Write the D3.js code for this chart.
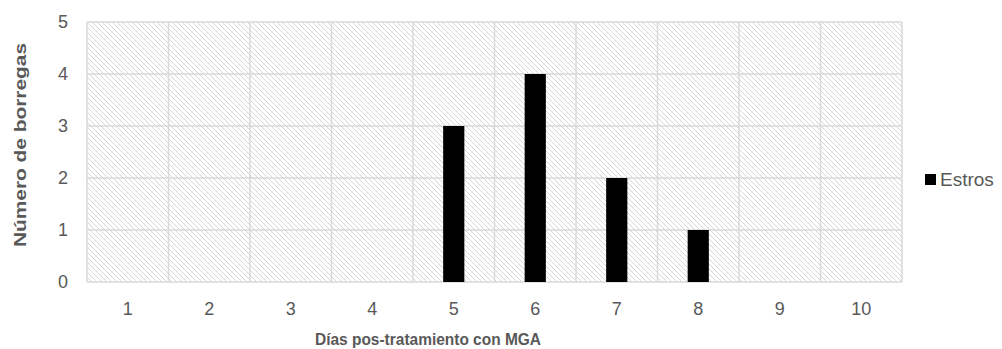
<!DOCTYPE html>
<html>
<head>
<script src="https://d3js.org/d3.v7.min.js"></script>
<style>
  body { margin: 0; background: #fff; }
  text { font-family: "Liberation Sans", Arial, sans-serif; fill: #595959; }
</style>
</head>
<body>
<script>
  // chart data
  const days = [1, 2, 3, 4, 5, 6, 7, 8, 9, 10];
  const estros = [0, 0, 0, 0, 3, 4, 2, 1, 0, 0];
  const yTicks = [0, 1, 2, 3, 4, 5];
  const seriesName = "Estros";

  const width = 1002, height = 349;
  const margin = {left: 87, top: 22, right: 100, bottom: 67};
  const plotW = width - margin.left - margin.right;   // 815
  const plotH = height - margin.top - margin.bottom;  // 260

  const svg = d3.select("body").append("svg")
      .attr("width", width).attr("height", height);

  // hatch fill for the plot background
  const pat = svg.append("defs").append("pattern")
      .attr("id", "hatch").attr("patternUnits", "userSpaceOnUse")
      .attr("width", 5).attr("height", 5);
  for (let i = 0; i < 5; i++) {
    pat.append("rect").attr("x", i).attr("y", i)
       .attr("width", 1).attr("height", 1).attr("fill", "#d6d6d6");
  }

  const g = svg.append("g")
      .attr("transform", "translate(" + margin.left + "," + margin.top + ")");

  const x = d3.scaleBand().domain(days).range([0, plotW]).paddingInner(0.74).paddingOuter(0.37);
  const xGrid = d3.scaleLinear().domain([0, days.length]).range([0, plotW]);
  const y = d3.scaleLinear().domain([0, 5]).range([plotH, 0]);

  g.append("rect").attr("width", plotW).attr("height", plotH).attr("fill", "url(#hatch)");

  // gridlines
  g.selectAll(".hg").data(yTicks).enter().append("line")
      .attr("x1", 0).attr("x2", plotW)
      .attr("y1", d => y(d)).attr("y2", d => y(d))
      .attr("stroke", "#d9d9d9").attr("stroke-width", 1.5);
  g.selectAll(".vg").data(d3.range(days.length + 1)).enter().append("line")
      .attr("x1", d => xGrid(d)).attr("x2", d => xGrid(d))
      .attr("y1", 0).attr("y2", plotH)
      .attr("stroke", "#d9d9d9").attr("stroke-width", 1.5);

  // bars
  g.selectAll(".bar").data(days).enter().append("rect")
      .attr("x", (d, i) => x(d))
      .attr("y", (d, i) => y(estros[i]))
      .attr("width", x.bandwidth())
      .attr("height", (d, i) => plotH - y(estros[i]))
      .attr("fill", "#000");

  // axes
  const yAxis = g.append("g").call(d3.axisLeft(y).tickValues(yTicks).tickFormat(d3.format("d")).tickSize(0).tickPadding(19));
  yAxis.select(".domain").remove();
  yAxis.selectAll("text").style("font-size", "18px").style("fill", "#595959");

  const xAxis = g.append("g").attr("transform", "translate(0," + plotH + ")")
      .call(d3.axisBottom(x).tickSize(0).tickPadding(20));
  xAxis.select(".domain").remove();
  xAxis.selectAll("text").style("font-size", "18px").style("fill", "#595959");

  // axis titles
  svg.append("text").attr("x", 428).attr("y", 345)
      .attr("text-anchor", "middle").style("font-size", "16px").style("font-weight", "bold")
      .attr("textLength", 226).attr("lengthAdjust", "spacingAndGlyphs")
      .text("Días pos-tratamiento con MGA");
  svg.append("text").attr("transform", "translate(26,145) rotate(-90)")
      .attr("text-anchor", "middle").style("font-size", "17px").style("font-weight", "bold")
      .attr("textLength", 204).attr("lengthAdjust", "spacingAndGlyphs")
      .text("Número de borregas");

  // legend
  svg.append("rect").attr("x", 925).attr("y", 174).attr("width", 11).attr("height", 11).attr("fill", "#000");
  svg.append("text").attr("x", 940).attr("y", 186).style("font-size", "19px").text(seriesName);
</script>
</body>
</html>
